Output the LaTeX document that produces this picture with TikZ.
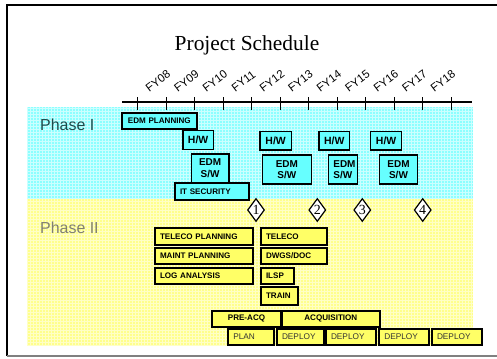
\documentclass[tikz,border=0pt]{standalone}
\usepackage{fontspec}
\setmainfont{Liberation Sans}
\newfontfamily\timesfont{Liberation Serif}
\usetikzlibrary{shapes.geometric}
\definecolor{phaseonebg}{HTML}{8CFFFF}
\definecolor{phasetwobg}{HTML}{FFFF8C}
\definecolor{taskcyan}{HTML}{66FFFF}
\definecolor{taskyellow}{HTML}{FFFF66}
\definecolor{phaseonetext}{HTML}{1F4A4A}
\definecolor{phasetwotext}{HTML}{808070}

\begin{document}
\begin{tikzpicture}[
  x=1bp, y=-1bp,
  every node/.style={inner sep=0pt},
  task/.style={draw, anchor=north west, inner xsep=5bp, inner ysep=0pt,
               font=\fontsize{8.1}{9}\selectfont\bfseries},
  thickbox/.style={task, line width=2bp},
  thinbox/.style={task, line width=1.3bp, align=center,
                  font=\fontsize{10}{11.5}\selectfont\bfseries},
  onebox/.style={fill=taskcyan},
  twobox/.style={fill=taskyellow, align=left},
  rollout/.style={task, line width=2bp, fill=taskyellow, align=left,
                  font=\fontsize{8.3}{9}\selectfont, text=black!80},
  milestone/.style={diamond, draw, fill=white, line width=1.2bp,
                    minimum width=17bp, minimum height=23bp,
                    font=\timesfont\fontsize{14}{14}\selectfont},
  fylabel/.style={rotate=37, font=\fontsize{11.5}{11.5}\selectfont},
  phaselabel/.style={anchor=west, font=\fontsize{16}{16}\selectfont},
]
  \useasboundingbox (0,0) rectangle (497,358);

  \fill[phaseonebg] (27,107) rectangle (473,199);
  \draw[white, line width=0.6bp, opacity=0.55] (27,107) grid[step=3bp] (473,199);
  \fill[phasetwobg] (27,199) rectangle (473,346);
  \draw[white, line width=0.6bp, opacity=0.5] (27,199) grid[step=3bp] (473,346);

  \draw[line width=2bp] (7,356) -- (7,5) -- (497,5);
  \draw[gray, line width=1.5bp] (7,356) -- (497,356);

  \node[font=\timesfont\fontsize{21.5}{24}\selectfont] (title) at (247,45) {Project Schedule};

  \draw[line width=1.5bp] (122,102) -- (472,102);
  \foreach \i in {0,...,11}
    \draw[line width=1.2bp] ({137.7+28.5*\i},97) -- ++(0,13);
  \foreach \lbl [count=\i from 0] in {FY08,FY09,FY10,FY11,FY12,FY13,FY14,FY15,FY16,FY17,FY18}
    \node[fylabel] (fy\i) at ({158+28.5*\i},81) {\lbl};

  \node[phaselabel, text=phaseonetext] (phaseone) at (40,125) {Phase I};
  \node[phaselabel, text=phasetwotext] (phasetwo) at (40,228) {Phase II};

  \node[thickbox, onebox, align=center, text width=64.7bp, minimum height=16.6bp] (edmplan) at (121,111.7) {EDM PLANNING};
  \node[thinbox, onebox, text width=20.4bp, minimum height=19bp, font=\fontsize{10.5}{11}\selectfont\bfseries] (hwa) at (182.3,130) {H/W};
  \node[thinbox, onebox, text width=21.4bp, minimum height=18.6bp, font=\fontsize{10.5}{11}\selectfont\bfseries] (hwb) at (259.3,130.7) {H/W};
  \node[thinbox, onebox, text width=20.7bp, minimum height=18.6bp, font=\fontsize{10.5}{11}\selectfont\bfseries] (hwc) at (318.3,130.7) {H/W};
  \node[thinbox, onebox, text width=21bp, minimum height=18.6bp, font=\fontsize{10.5}{11}\selectfont\bfseries] (hwd) at (370,130.7) {H/W};
  \node[thinbox, onebox, text width=27.6bp, minimum height=28.4bp] (edmswa) at (190.7,153.3) {EDM\\S/W};
  \node[thinbox, onebox, text width=39bp, minimum height=29bp] (edmswb) at (261.7,154.3) {EDM\\S/W};
  \node[thinbox, onebox, text width=19bp, minimum height=29bp] (edmswc) at (327.7,154.3) {EDM\\S/W};
  \node[thinbox, onebox, text width=27.7bp, minimum height=29bp] (edmswd) at (379,154.3) {EDM\\S/W};
  \node[thickbox, onebox, align=left, text width=64.3bp, minimum height=17.3bp] (itsec) at (174,181.7) {IT SECURITY};

  \node[milestone] (msa) at (256,210) {1};
  \node[milestone] (msb) at (317.3,210) {2};
  \node[milestone] (msc) at (362.3,210) {3};
  \node[milestone] (msd) at (422.7,210) {4};

  \node[thickbox, twobox, text width=88.3bp, minimum height=17.3bp] (telplan) at (154,226.7) {TELECO PLANNING};
  \node[thickbox, twobox, text width=88.3bp, minimum height=16.6bp] (maintplan) at (154,246.7) {MAINT PLANNING};
  \node[thickbox, twobox, text width=88.3bp, minimum height=16.6bp] (loganal) at (154,266.7) {LOG ANALYSIS};
  \node[thickbox, twobox, text width=56bp, minimum height=17.3bp] (teleco) at (260,226.7) {TELECO};
  \node[thickbox, twobox, text width=56bp, minimum height=16.6bp] (dwgs) at (260,246.7) {DWGS/DOC};
  \node[thickbox, twobox, text width=23.3bp, minimum height=16.6bp] (ilsp) at (260,266.7) {ILSP};
  \node[thickbox, twobox, text width=27.3bp, minimum height=18bp] (train) at (260,286) {TRAIN};
  \node[thickbox, twobox, align=center, text width=59bp, minimum height=15.7bp] (preacq) at (211,310) {PRE-ACQ};
  \node[thickbox, twobox, align=center, text width=88.3bp, minimum height=15.7bp] (acq) at (280.7,310) {ACQUISITION};

  \node[rollout, text width=35.4bp, minimum height=16.3bp] (plan) at (227.3,327.7) {PLAN};
  \node[rollout, text width=36.7bp, minimum height=16.3bp] (deploya) at (276,327.7) {DEPLOY};
  \node[rollout, text width=40bp, minimum height=16.3bp] (deployb) at (325,327.7) {DEPLOY};
  \node[rollout, text width=40bp, minimum height=16.3bp] (deployc) at (378.3,327.7) {DEPLOY};
  \node[rollout, text width=40bp, minimum height=16.3bp] (deployd) at (431,327.7) {DEPLOY};
\end{tikzpicture}
\end{document}
